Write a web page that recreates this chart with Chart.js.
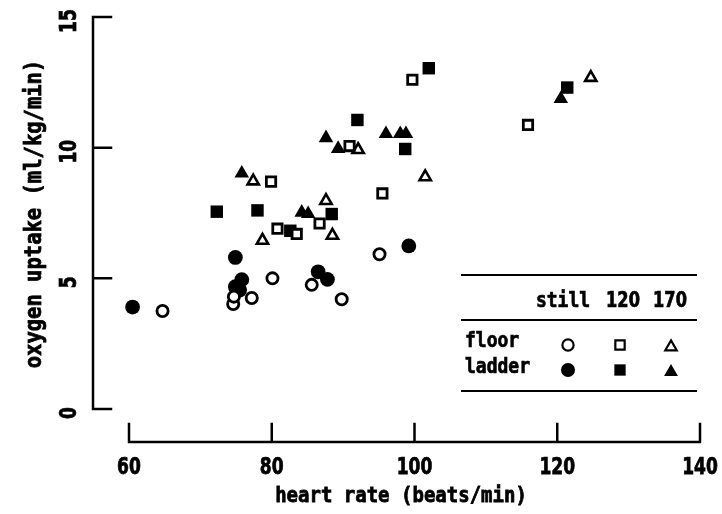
<!DOCTYPE html>
<html>
<head>
<meta charset="utf-8">
<script src="https://cdn.jsdelivr.net/npm/chart.js@4.4.0/dist/chart.umd.min.js"></script>
<style>
  html, body { margin: 0; padding: 0; background: #fff; }
  #wrap { width: 722px; height: 514px; }
</style>
</head>
<body>
<div id="wrap"><canvas id="chart" width="722" height="514"></canvas></div>
<script>
// Axis ticks and labels
const xTicks = [60, 80, 100, 120, 140];
const yTicks = [0, 5, 10, 15];
const xTitle = 'heart rate (beats/min)';
const yTitle = 'oxygen uptake (ml/kg/min)';

// Legend table
const surfaces = ['floor', 'ladder'];
const conditions = ['still', '120', '170'];

// floor / still
const floorStillHr = [64.7, 74.6, 74.7, 77.2, 80.1, 85.6, 89.8, 95.1];
const floorStillO2 = [3.75, 4.02, 4.3, 4.25, 5.0, 4.75, 4.2, 5.92];
// ladder / still
const ladderStillHr = [60.5, 74.9, 75.8, 74.9, 75.5, 86.5, 87.8, 99.2];
const ladderStillO2 = [3.9, 5.8, 4.95, 4.68, 4.55, 5.25, 4.96, 6.24];
// floor / 120
const floor120Hr = [79.9, 80.8, 83.5, 86.7, 90.9, 95.5, 99.7, 115.9];
const floor120O2 = [8.7, 6.9, 6.7, 7.1, 10.06, 8.25, 12.6, 10.87];
// ladder / 120
const ladder120Hr = [72.3, 78.0, 82.6, 88.4, 92.0, 98.7, 102.0, 121.4];
const ladder120O2 = [7.55, 7.6, 6.82, 7.46, 11.06, 9.95, 13.04, 12.3];
// floor / 170
const floor170Hr = [77.4, 78.7, 87.6, 88.5, 92.1, 101.5, 124.7];
const floor170O2 = [8.72, 6.45, 7.97, 6.64, 9.92, 8.88, 12.68];
// ladder / 170
const ladder170Hr = [75.8, 84.2, 85.1, 87.6, 89.3, 96.0, 98.0, 98.8, 120.5];
const ladder170O2 = [9.02, 7.52, 7.47, 10.37, 9.96, 10.53, 10.53, 10.53, 11.87];

const FONT = '"DejaVu Sans Mono", "Liberation Mono", monospace';
const NUM_FONT = '"DejaVu Sans Condensed", "Liberation Sans Narrow", "DejaVu Sans", sans-serif';

function pts(xs, ys) {
    return xs.map((v, i) => ({ x: v, y: ys[i] }));
}

// Marker styles: open (white fill) and filled per condition
const markers = {
    still: { open: { pointStyle: 'circle', radius: 5.6, borderWidth: 2.8 }, filled: { pointStyle: 'circle', radius: 7.4, borderWidth: 0 } },
    '120': { open: { pointStyle: 'rect', radius: 6.6, borderWidth: 2.8 }, filled: { pointStyle: 'rect', radius: 8.8, borderWidth: 0 } },
    '170': { open: { pointStyle: 'triangle', radius: 6.5, borderWidth: 2.6 }, filled: { pointStyle: 'triangle', radius: 8.4, borderWidth: 0 } }
};

function makeSet(label, data, cond, filled) {
    const m = filled ? markers[cond].filled : markers[cond].open;
    return {
        label: label,
        data: data,
        pointStyle: m.pointStyle,
        pointRadius: m.radius,
        pointHoverRadius: m.radius,
        pointBorderWidth: m.borderWidth,
        pointBackgroundColor: filled ? '#000' : '#fff',
        pointBorderColor: '#000',
        clip: false
    };
}

// bold-ish text with a slight vertical stretch
function drawText(ctx, text, x, y, rot, sy) {
    ctx.save();
    ctx.translate(x, y);
    if (rot) ctx.rotate(rot);
    ctx.scale(1, sy);
    ctx.fillText(text, 0, 0);
    ctx.strokeText(text, 0, 0);
    ctx.restore();
}

// Draw R-style detached axes, labels and titles
const axesPlugin = {
    id: 'rAxes',
    afterDraw(chart) {
        const ctx = chart.ctx;
        const xs = chart.scales.x;
        const ys = chart.scales.y;
        const axisY = 442;
        const axisX = 93;
        const tickLen = 18;

        ctx.save();
        ctx.strokeStyle = '#000';
        ctx.lineWidth = 2.5;
        ctx.lineCap = 'square';

        // x axis
        ctx.beginPath();
        ctx.moveTo(xs.getPixelForValue(xTicks[0]), axisY);
        ctx.lineTo(xs.getPixelForValue(xTicks[xTicks.length - 1]), axisY);
        xTicks.forEach(t => {
            const px = xs.getPixelForValue(t);
            ctx.moveTo(px, axisY);
            ctx.lineTo(px, axisY - tickLen);
        });
        // y axis
        ctx.moveTo(axisX, ys.getPixelForValue(yTicks[0]));
        ctx.lineTo(axisX, ys.getPixelForValue(yTicks[yTicks.length - 1]));
        yTicks.forEach(t => {
            const py = ys.getPixelForValue(t);
            ctx.moveTo(axisX, py);
            ctx.lineTo(axisX + tickLen, py);
        });
        ctx.stroke();

        ctx.fillStyle = '#000';
        ctx.lineWidth = 0.6;
        ctx.font = 'bold 19px ' + NUM_FONT;
        ctx.textAlign = 'center';
        ctx.textBaseline = 'middle';

        // x tick labels
        xTicks.forEach(t => drawText(ctx, String(t), xs.getPixelForValue(t), 468, 0, 1.25));
        // y tick labels, rotated
        yTicks.forEach(t => drawText(ctx, String(t), 70, ys.getPixelForValue(t) + 4, -Math.PI / 2, 1.25));

        // titles
        ctx.lineWidth = 0.7;
        ctx.font = 'bold 19px ' + FONT;
        drawText(ctx, xTitle, 401, 497, 0, 1.1);
        ctx.font = 'bold 20.5px ' + FONT;
        drawText(ctx, yTitle, 35, 214, -Math.PI / 2, 1.1);
        ctx.restore();
    }
};

// Table-style legend in the lower right
const legendPlugin = {
    id: 'tableLegend',
    afterDraw(chart) {
        const ctx = chart.ctx;
        const left = 461, right = 697;
        const colX = [568, 620, 671];
        const headX = [563, 623, 670];
        const rowY = [345, 370];
        const textRowY = [342, 368];

        ctx.save();
        ctx.strokeStyle = '#000';
        ctx.lineWidth = 2;
        ctx.beginPath();
        [275, 320, 391].forEach(y => {
            ctx.moveTo(left, y);
            ctx.lineTo(right, y);
        });
        ctx.stroke();

        ctx.fillStyle = '#000';
        ctx.lineWidth = 0.6;
        ctx.textBaseline = 'middle';
        ctx.textAlign = 'center';
        conditions.forEach((c, i) => {
            // numeric headers use the plain-zero face
            ctx.font = /^\d+$/.test(c) ? 'bold 18px ' + NUM_FONT : 'bold 18px ' + FONT;
            drawText(ctx, c, headX[i], 302, 0, 1.15);
        });
        ctx.font = 'bold 18px ' + FONT;
        ctx.textAlign = 'left';
        surfaces.forEach((s, i) => drawText(ctx, s, 465, textRowY[i], 0, 1.15));

        const legendMarkers = {
            still: [{ pointStyle: 'circle', radius: 5.6, borderWidth: 2.2 }, { pointStyle: 'circle', radius: 7, borderWidth: 0 }],
            '120': [{ pointStyle: 'rect', radius: 6.6, borderWidth: 2.2 }, { pointStyle: 'rect', radius: 8, borderWidth: 0 }],
            '170': [{ pointStyle: 'triangle', radius: 6.6, borderWidth: 2.2 }, { pointStyle: 'triangle', radius: 8, borderWidth: 0 }]
        };
        conditions.forEach((c, ci) => {
            surfaces.forEach((s, si) => {
                const m = legendMarkers[c][si];
                ctx.fillStyle = si === 0 ? '#fff' : '#000';
                ctx.strokeStyle = '#000';
                ctx.lineWidth = m.borderWidth;
                const dy = m.pointStyle === 'triangle' ? 2 : 0;
                Chart.helpers.drawPoint(ctx, { pointStyle: m.pointStyle, radius: m.radius, borderWidth: m.borderWidth, rotation: 0 }, colX[ci], rowY[si] + dy);
            });
        });
        ctx.restore();
    }
};

const ctx = document.getElementById('chart').getContext('2d');
const chart = new Chart(ctx, {
    type: 'scatter',
    data: {
        datasets: [
            makeSet('floor still', pts(floorStillHr, floorStillO2), 'still', false),
            makeSet('ladder still', pts(ladderStillHr, ladderStillO2), 'still', true),
            makeSet('floor 120', pts(floor120Hr, floor120O2), '120', false),
            makeSet('ladder 120', pts(ladder120Hr, ladder120O2), '120', true),
            makeSet('floor 170', pts(floor170Hr, floor170O2), '170', false),
            makeSet('ladder 170', pts(ladder170Hr, ladder170O2), '170', true)
        ]
    },
    options: {
        responsive: false,
        animation: false,
        events: [],
        layout: {
            padding: { left: 129, right: 22, top: 17, bottom: 105 }
        },
        plugins: {
            legend: { display: false },
            tooltip: { enabled: false }
        },
        scales: {
            x: { type: 'linear', display: false, min: 60, max: 140 },
            y: { type: 'linear', display: false, min: 0, max: 15 }
        }
    },
    plugins: [axesPlugin, legendPlugin]
});
</script>
</body>
</html>
